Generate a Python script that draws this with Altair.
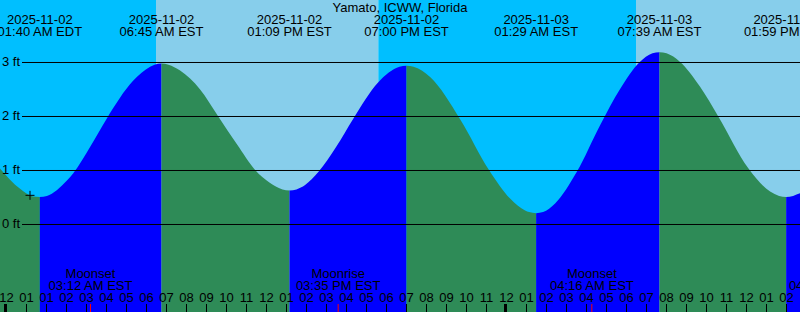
import altair as alt
import pandas as pd

FONT = "Liberation Sans"
TITLE = "Yamato, ICWW, Florida"

# Time axis: hours elapsed since 2025-11-02 00:00 EDT (DST ends at 02:00 EDT)
X_DOMAIN = [-0.325, 39.675]
Y_DOMAIN = [-1.6204, 4.1574]   # feet

# Tide extremes (top labels)
tide_hours = [1.667, 7.75, 14.15, 20.0, 26.483, 32.65, 38.983]
tide_dates = ["2025-11-02", "2025-11-02", "2025-11-02", "2025-11-02",
              "2025-11-03", "2025-11-03", "2025-11-03"]
tide_times = ["01:40 AM EDT", "06:45 AM EST", "01:09 PM EST", "07:00 PM EST",
              "01:29 AM EST", "07:39 AM EST", "01:59 PM EST"]

# Water level, one list per rising / falling stretch
curve_hours = [
    [-0.4, 0.68, 1.32, 1.667],
    [1.667, 2.02, 3.01, 3.34, 4.2, 5.01, 6.33, 7.18, 7.4, 7.75],
    [7.75, 8.1, 8.68, 9.68, 10.59, 11.53, 12.43, 13.18, 13.8, 14.15],
    [14.15, 14.5, 14.93, 15.59, 16.47, 17.34, 18.58, 19.65, 20.0],
    [20.0, 20.35, 21.18, 22.68, 24.14, 25.18, 25.93, 26.13, 26.483],
    [26.483, 26.83, 27.43, 28.51, 29.68, 30.68, 31.64, 32.3, 32.65],
    [32.65, 33.0, 33.68, 34.68, 35.59, 37.09, 38.18, 38.63, 38.983],
    [38.983, 39.33, 39.7, 40.0],
]
curve_levels = [
    [1.07, 0.66, 0.52, 0.51],
    [0.51, 0.53, 0.81, 0.95, 1.45, 1.96, 2.66, 2.92, 2.96, 2.98],
    [2.98, 2.96, 2.85, 2.5, 2.0, 1.48, 1.01, 0.77, 0.65, 0.63],
    [0.63, 0.65, 0.73, 0.97, 1.43, 1.96, 2.63, 2.92, 2.94],
    [2.94, 2.92, 2.73, 1.95, 1.0, 0.48, 0.26, 0.23, 0.21],
    [0.21, 0.23, 0.39, 0.97, 1.84, 2.51, 3.0, 3.17, 3.19],
    [3.19, 3.17, 3.01, 2.55, 2.0, 1.04, 0.61, 0.53, 0.51],
    [0.51, 0.53, 0.58, 0.62],
]
curve_phase = ["ebb", "flood", "ebb", "flood", "ebb", "flood", "ebb", "flood"]

# Day / night background
sky_start = [-1.0, 7.475, 18.59, 31.475]
sky_end = [7.475, 18.59, 31.475, 41.0]
sky_kind = ["night", "day", "night", "day"]

# Hour ticks along the bottom
hour_ticks = list(range(0, 40))
hour_labels = ["12", "01", "01", "02", "03", "04", "05", "06", "07", "08",
               "09", "10", "11", "12", "01", "02", "03", "04", "05", "06",
               "07", "08", "09", "10", "11", "12", "01", "02", "03", "04",
               "05", "06", "07", "08", "09", "10", "11", "12", "01", "02"]
midnight_hours = [0, 25]

# Moon events
moon_hours = [4.2, 16.583, 29.267, 41.233]
moon_names = ["Moonset", "Moonrise", "Moonset", "Moonrise"]
moon_times = ["03:12 AM EST", "03:35 PM EST", "04:16 AM EST", "04:14 PM EST"]

# Level grid
grid_levels = [0, 1, 2, 3]
grid_labels = ["0 ft", "1 ft", "2 ft", "3 ft"]

# Current-time mark
now_hour = [1.175]
now_level = [0.54]

COLORS = {"night": "#00BFFF", "day": "#87CEEB",
          "flood": "#0000FF", "ebb": "#2E8B57"}

xs = alt.Scale(domain=X_DOMAIN, nice=False, zero=False)
ys = alt.Scale(domain=Y_DOMAIN, nice=False, zero=False)

sky_df = pd.DataFrame({"start": sky_start, "end": sky_end,
                       "color": [COLORS[k] for k in sky_kind]})
rows = []
for i, (hs, ls) in enumerate(zip(curve_hours, curve_levels)):
    for h, l in zip(hs, ls):
        rows.append({"h": h, "level": l, "seg": i, "base": -1.8,
                     "color": COLORS[curve_phase[i]]})
curve_df = pd.DataFrame(rows)
tide_df = pd.DataFrame({"h": tide_hours, "date": tide_dates, "time": tide_times})
hour_df = pd.DataFrame({"h": hour_ticks, "label": hour_labels})
mid_df = pd.DataFrame({"h": midnight_hours})
moon_df = pd.DataFrame({"h": moon_hours, "name": moon_names, "time": moon_times})
grid_df = pd.DataFrame({"level": grid_levels, "label": grid_labels})
now_df = pd.DataFrame({"h": now_hour, "level": now_level})
title_df = pd.DataFrame({"t": [TITLE]})

sky = alt.Chart(sky_df).mark_rect().encode(
    x=alt.X("start:Q", scale=xs, axis=None),
    x2="end:Q",
    y=alt.value(0), y2=alt.value(312),
    color=alt.Color("color:N", scale=None, legend=None),
)

water = alt.Chart(curve_df).mark_area(interpolate="monotone").encode(
    x=alt.X("h:Q", scale=xs, axis=None),
    y=alt.Y("level:Q", scale=ys, axis=None, stack=None),
    y2="base:Q",
    color=alt.Color("color:N", scale=None, legend=None),
    detail="seg:N",
)

grid = alt.Chart(grid_df).mark_rule(color="black", strokeWidth=1).encode(
    y=alt.Y("level:Q", scale=ys, axis=None),
    x=alt.value(22), x2=alt.value(800),
)
grid_text = alt.Chart(grid_df).mark_text(
    align="left", baseline="middle", font=FONT, fontSize=13, color="black"
).encode(
    y=alt.Y("level:Q", scale=ys, axis=None), x=alt.value(2), text="label:N"
)

txt = dict(align="center", baseline="alphabetic", font=FONT, fontSize=13, color="black")
title = alt.Chart(title_df).mark_text(**txt).encode(
    x=alt.value(400), y=alt.value(12), text="t:N")
tide_d = alt.Chart(tide_df).mark_text(**txt).encode(
    x=alt.X("h:Q", scale=xs, axis=None), y=alt.value(24), text="date:N")
tide_t = alt.Chart(tide_df).mark_text(**txt).encode(
    x=alt.X("h:Q", scale=xs, axis=None), y=alt.value(36), text="time:N")

hour_text = alt.Chart(hour_df).mark_text(**txt).encode(
    x=alt.X("h:Q", scale=xs, axis=None), y=alt.value(302), text="label:N")
hour_rule = alt.Chart(hour_df).mark_rule(color="black", strokeWidth=1).encode(
    x=alt.X("h:Q", scale=xs, axis=None), y=alt.value(304), y2=alt.value(312))
mid_rule = alt.Chart(mid_df).mark_rule(color="black", strokeWidth=3, xOffset=-1).encode(
    x=alt.X("h:Q", scale=xs, axis=None), y=alt.value(304), y2=alt.value(312))

moon_rule = alt.Chart(moon_df).mark_rule(color="#FF0000", strokeWidth=1).encode(
    x=alt.X("h:Q", scale=xs, axis=None), y=alt.value(304), y2=alt.value(312))
moon_name = alt.Chart(moon_df).mark_text(**txt).encode(
    x=alt.X("h:Q", scale=xs, axis=None), y=alt.value(278), text="name:N")
moon_time = alt.Chart(moon_df).mark_text(**txt).encode(
    x=alt.X("h:Q", scale=xs, axis=None), y=alt.value(290), text="time:N")

now_mark = alt.Chart(now_df).mark_point(
    shape="M-1,0L1,0M0,-1L0,1", size=81, filled=False, stroke="black",
    strokeWidth=1, opacity=1
).encode(
    x=alt.X("h:Q", scale=xs, axis=None),
    y=alt.Y("level:Q", scale=ys, axis=None),
)

chart = alt.layer(
    sky, water, grid, grid_text, now_mark, title, tide_d, tide_t,
    moon_name, moon_time, hour_text, hour_rule, mid_rule, moon_rule
).properties(
    width=800, height=312, padding=0,
    autosize=alt.AutoSizeParams(type="none"),
).configure_view(stroke=None)

chart.save("out.html", embed_options={"renderer": "svg", "actions": False})
